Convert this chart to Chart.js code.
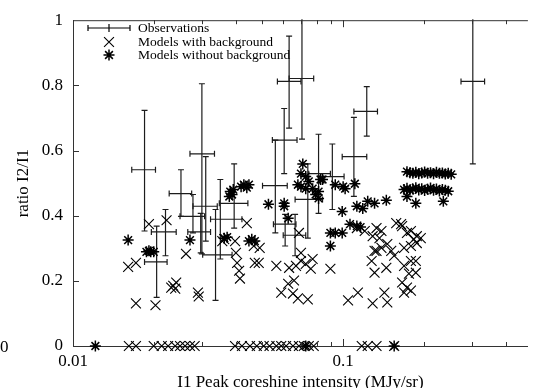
<!DOCTYPE html>
<html>
<head>
<meta charset="utf-8">
<script src="https://cdn.jsdelivr.net/npm/chart.js@4.4.1/dist/chart.umd.min.js"></script>
<style>
  html, body { margin: 0; padding: 0; background: #fff; }
  #wrap { width: 536px; height: 388px; position: relative; }
</style>
</head>
<body>
<div id="wrap"><canvas id="ratioChart"></canvas></div>
<script>
// --- Observations (centre + error bar ends) ---
const obsX   = [0.0184, 0.0204, 0.0220, 0.0251, 0.0300, 0.0310, 0.0297, 0.0278, 0.0337, 0.0351, 0.0395,
                0.0561, 0.0605, 0.0631, 0.0704, 0.0610, 0.0664, 0.0740, 0.0811, 0.0912, 0.1096, 0.1223, 0.302];
const obsY   = [0.541, 0.258, 0.350, 0.468, 0.590, 0.429, 0.350, 0.398, 0.280, 0.389, 0.438,
                0.492, 0.632, 0.812, 0.821, 0.374, 0.340, 0.450, 0.529, 0.520, 0.581, 0.720, 0.812];
const obsXLo = [0.0165, 0.0184, 0.0195, 0.0227, 0.0271, 0.0278, 0.0266, 0.0249, 0.0302, 0.0323, 0.0348,
                0.0503, 0.0547, 0.0571, 0.0631, 0.0552, 0.0600, 0.0664, 0.0746, 0.0825, 0.0992, 0.1096, 0.2731];
const obsXHi = [0.0202, 0.0223, 0.0241, 0.0275, 0.0334, 0.0342, 0.0323, 0.0307, 0.0388, 0.0422, 0.0444,
                0.0621, 0.0675, 0.0698, 0.0778, 0.0669, 0.0727, 0.0839, 0.0897, 0.1008, 0.1223, 0.1340, 0.3339];
const obsYLo = [0.353, 0.149, 0.277, 0.398, 0.283, 0.322, 0.286, 0.347, 0.140, 0.267, 0.362,
                0.347, 0.529, 0.669, 0.635, 0.307, 0.277, 0.331, 0.407, 0.419, 0.459, 0.644, 0.559];
const obsYHi = [0.723, 0.368, 0.419, 0.541, 0.805, 0.581, 0.407, 0.465, 0.419, 0.511, 0.559,
                0.632, 0.729, 0.951, 1.05, 0.404, 0.404, 0.559, 0.650, 0.620, 0.702, 0.796, 1.05];

// --- Models with background (x) ---
const bgX = [0.0191, 0.0222, 0.0160, 0.0171, 0.0171, 0.0202, 0.0231, 0.0241, 0.0235, 0.0239, 0.0262, 0.0290, 0.0292,
             0.0363, 0.0357, 0.0398, 0.0401, 0.0405, 0.0412, 0.0415, 0.0440, 0.0471, 0.0467, 0.0491, 0.0487,
             0.0566, 0.0631, 0.0669, 0.0698, 0.0727, 0.0759, 0.0771, 0.0698, 0.0686, 0.0590, 0.0626, 0.0658,
             0.0652, 0.0680, 0.0740, 0.0897, 0.1043, 0.1134, 0.1286, 0.1421, 0.1457, 0.1275, 0.1307, 0.1329,
             0.1386, 0.1445, 0.1507, 0.1545, 0.1681, 0.1782, 0.1874, 0.1681, 0.1782, 0.1858, 0.1752, 0.1858,
             0.1653, 0.1723, 0.1681, 0.1782, 0.1639, 0.1723, 0.1782, 0.1827, 0.1874, 0.1938, 0.1124, 0.1202,
             0.1329, 0.1386, 0.1286, 0.1363, 0.1572, 0.1653, 0.1457, 0.1307,
             0.0161, 0.0171, 0.0199, 0.0213, 0.0225, 0.0239, 0.0249, 0.0260, 0.0271, 0.0282, 0.0398, 0.0422,
             0.0452, 0.0479, 0.0508, 0.0534, 0.0566, 0.0590, 0.0615, 0.0652, 0.0686, 0.0715, 0.0746, 0.0778,
             0.1172, 0.1233, 0.1329, 0.1545];
const bgY = [0.374, 0.386, 0.243, 0.255, 0.131, 0.125, 0.179, 0.195, 0.185, 0.176, 0.283, 0.164, 0.152,
             0.328, 0.322, 0.322, 0.286, 0.255, 0.231, 0.207, 0.377, 0.255, 0.307, 0.301, 0.255,
             0.246, 0.240, 0.246, 0.261, 0.252, 0.237, 0.267, 0.286, 0.347, 0.164, 0.191, 0.201,
             0.161, 0.146, 0.143, 0.237, 0.140, 0.164, 0.131, 0.164, 0.134, 0.261, 0.225, 0.292,
             0.301, 0.240, 0.292, 0.277, 0.301, 0.307, 0.316, 0.246, 0.261, 0.261, 0.222, 0.225,
             0.195, 0.179, 0.164, 0.170, 0.374, 0.347, 0.353, 0.328, 0.337, 0.331, 0.362, 0.353,
             0.362, 0.353, 0.337, 0.331, 0.377, 0.368, 0.313, 0.292,
             0, 0, 0, 0, 0, 0, 0, 0, 0, 0, 0, 0,
             0, 0, 0, 0, 0, 0, 0, 0, 0, 0, 0, 0,
             0, 0, 0, 0];

// --- Models without background (*) ---
const nobgX = [0.0160, 0.0187, 0.0194, 0.0199, 0.0191, 0.0271, 0.0363, 0.0372, 0.0448, 0.0459, 0.0471,
               0.0382, 0.0388, 0.0379, 0.0392, 0.0419, 0.0429, 0.0440, 0.0448, 0.0529, 0.0605, 0.0605, 0.0626,
               0.0709, 0.0698, 0.0727, 0.0746, 0.0680, 0.0698, 0.0727, 0.0771, 0.0791, 0.0811, 0.0825, 0.0839,
               0.0811, 0.0935, 0.1000, 0.1017, 0.1105, 0.0992, 0.1124, 0.1182, 0.1233, 0.1307, 0.1445,
               0.0897, 0.0935, 0.0992, 0.0897, 0.1060, 0.1124, 0.1160,
               0.1723, 0.1767, 0.1812, 0.1858, 0.1905, 0.1954, 0.2003, 0.2054, 0.2106, 0.2161, 0.2215, 0.2272,
               0.2330, 0.2389, 0.2449, 0.2512,
               0.1681, 0.1723, 0.1767, 0.1812, 0.1858, 0.1905, 0.1954, 0.2003, 0.2054, 0.2106, 0.2161, 0.2215,
               0.2272, 0.2330, 0.2389, 0.2449, 0.2349, 0.1858, 0.1723,
               0.0121, 0.0727, 0.1545];
const nobgY = [0.325, 0.289, 0.289, 0.289, 0.292, 0.325, 0.331, 0.334, 0.322, 0.328, 0.322,
               0.474, 0.465, 0.459, 0.480, 0.489, 0.495, 0.486, 0.495, 0.435, 0.438, 0.429, 0.392,
               0.559, 0.529, 0.520, 0.505, 0.495, 0.489, 0.483, 0.483, 0.465, 0.453, 0.511, 0.511,
               0.474, 0.495, 0.489, 0.483, 0.498, 0.413, 0.429, 0.422, 0.444, 0.438, 0.447,
               0.347, 0.347, 0.347, 0.307, 0.374, 0.368, 0.365,
               0.535, 0.532, 0.530, 0.533, 0.529, 0.531, 0.534, 0.530, 0.532, 0.529, 0.533, 0.530,
               0.531, 0.528, 0.530, 0.527,
               0.480, 0.484, 0.478, 0.482, 0.486, 0.479, 0.483, 0.477, 0.481, 0.485, 0.478, 0.482,
               0.476, 0.480, 0.478, 0.475, 0.444, 0.438, 0.459,
               0, 0, 0];

// --- Axis labels ---
const xTickLabels = [0.01, 0.1];
const xMinorTicks = [0.02, 0.03, 0.04, 0.05, 0.06, 0.07, 0.08, 0.09, 0.2, 0.3, 0.4];
const yTicks = [0, 0.2, 0.4, 0.6, 0.8, 1];
const legendLabels = ['Observations', 'Models with background', 'Models without background'];

const serif = '"Liberation Serif", "DejaVu Serif", serif';
const ink = '#000';

const toPoints = (xs, ys) => xs.map((v, i) => ({ x: v, y: ys[i] }));

// --- error bars for the observations, drawn through the scales ---
const errorBarPlugin = {
    id: 'errorBars',
    beforeDatasetsDraw(chart) {
        const { ctx, chartArea, scales: { x, y } } = chart;
        ctx.save();
        ctx.beginPath();
        ctx.rect(chartArea.left, chartArea.top - 1, chartArea.right - chartArea.left, chartArea.bottom - chartArea.top + 2);
        ctx.clip();
        ctx.strokeStyle = '#1c1c1c';
        ctx.lineWidth = 1.2;
        const cap = 3;
        obsX.forEach((v, i) => {
            const px = x.getPixelForValue(v);
            const py = y.getPixelForValue(obsY[i]);
            const x0 = x.getPixelForValue(obsXLo[i]);
            const x1 = x.getPixelForValue(obsXHi[i]);
            const y0 = y.getPixelForValue(obsYLo[i]);
            const y1 = y.getPixelForValue(obsYHi[i]);
            ctx.beginPath();
            ctx.moveTo(x0, py); ctx.lineTo(x1, py);
            ctx.moveTo(x0, py - cap); ctx.lineTo(x0, py + cap);
            ctx.moveTo(x1, py - cap); ctx.lineTo(x1, py + cap);
            ctx.moveTo(px, y0); ctx.lineTo(px, y1);
            ctx.moveTo(px - cap, y0); ctx.lineTo(px + cap, y0);
            ctx.moveTo(px - cap, y1); ctx.lineTo(px + cap, y1);
            ctx.stroke();
        });
        ctx.restore();
    }
};

// --- frame, inward ticks, legend ---
const framePlugin = {
    id: 'frame',
    afterDraw(chart) {
        const { ctx, chartArea, scales: { x, y } } = chart;
        ctx.save();
        ctx.strokeStyle = '#333';
        ctx.lineWidth = 1;
        // top border
        ctx.beginPath();
        ctx.moveTo(chartArea.left, chartArea.top + 0.5);
        ctx.lineTo(chartArea.right, chartArea.top + 0.5);
        ctx.stroke();

        ctx.beginPath();
        xMinorTicks.forEach(v => {
            const px = Math.round(x.getPixelForValue(v)) + 0.5;
            ctx.moveTo(px, chartArea.bottom); ctx.lineTo(px, chartArea.bottom - 4);
            ctx.moveTo(px, chartArea.top); ctx.lineTo(px, chartArea.top + 4);
        });
        xTickLabels.forEach(v => {
            const px = Math.round(x.getPixelForValue(v)) + 0.5;
            ctx.moveTo(px, chartArea.bottom); ctx.lineTo(px, chartArea.bottom - 7);
            ctx.moveTo(px, chartArea.top); ctx.lineTo(px, chartArea.top + 7);
        });
        yTicks.slice(1, -1).forEach(v => {
            const py = Math.round(y.getPixelForValue(v)) + 0.5;
            ctx.moveTo(chartArea.left, py); ctx.lineTo(chartArea.left + 6, py);
        });
        ctx.stroke();

        // legend (top left, inside the frame)
        const lx = 109, ly = [28, 42, 55];
        ctx.strokeStyle = ink;
        ctx.lineWidth = 1.2;
        ctx.beginPath();
        ctx.moveTo(88, ly[0]); ctx.lineTo(130, ly[0]);
        ctx.moveTo(88, ly[0] - 3); ctx.lineTo(88, ly[0] + 3);
        ctx.moveTo(130, ly[0] - 3); ctx.lineTo(130, ly[0] + 3);
        ctx.moveTo(lx, ly[0] - 4); ctx.lineTo(lx, ly[0] + 4);
        ctx.stroke();
        ctx.lineWidth = 1.1;
        Chart.helpers.drawPoint(ctx, { pointStyle: 'crossRot', radius: 7, borderWidth: 1.1 }, lx, ly[1]);
        ctx.lineWidth = 1.5;
        Chart.helpers.drawPoint(ctx, { pointStyle: 'star', radius: 5.5, borderWidth: 1.5 }, lx, ly[2]);

        ctx.fillStyle = ink;
        ctx.font = '13.5px ' + serif;
        ctx.textAlign = 'left';
        ctx.textBaseline = 'middle';
        legendLabels.forEach((t, i) => ctx.fillText(t, 138, ly[i]));

        // stray label at the far left edge
        ctx.font = '17px ' + serif;
        ctx.fillText('0', 0, 348);
        ctx.restore();
    }
};

Chart.defaults.font.family = serif;
Chart.defaults.color = ink;

new Chart(document.getElementById('ratioChart'), {
    type: 'scatter',
    data: {
        datasets: [
            {
                label: 'Models with background',
                data: toPoints(bgX, bgY),
                pointStyle: 'crossRot', pointRadius: 7, borderWidth: 1.1,
                borderColor: ink, backgroundColor: ink, clip: false
            },
            {
                label: 'Models without background',
                data: toPoints(nobgX, nobgY),
                pointStyle: 'star', pointRadius: 5.5, borderWidth: 1.5,
                borderColor: ink, backgroundColor: ink, clip: false
            }
        ]
    },
    options: {
        responsive: true, maintainAspectRatio: false, animation: false,
        layout: { padding: { top: 17, right: 0, bottom: 0, left: 0 } },
        plugins: { legend: { display: false }, tooltip: { enabled: false } },
        scales: {
            x: {
                type: 'logarithmic', min: 0.01, max: 0.483,
                afterFit: (scale) => { scale.height = 42; },
                grid: { display: false, drawTicks: false },
                border: { display: true, color: '#333', width: 1 },
                ticks: {
                    autoSkip: false, maxRotation: 0, padding: 5,
                    font: { size: 17 }, color: ink,
                    callback: (v) => xTickLabels.includes(Number(v.toPrecision(3))) ? String(v) : ''
                },
                title: {
                    display: true, text: 'I1 Peak coreshine intensity (MJy/sr)',
                    font: { size: 17, lineHeight: 1 }, color: ink, padding: { top: 0, bottom: -3 }
                }
            },
            y: {
                min: 0, max: 1,
                afterFit: (scale) => { scale.width = 73; },
                afterBuildTicks: (scale) => { scale.ticks = yTicks.map(v => ({ value: v })); },
                grid: { display: false, drawTicks: false },
                border: { display: true, color: '#333', width: 1 },
                ticks: { padding: 10, font: { size: 17 }, color: ink, callback: (v) => String(v) },
                title: {
                    display: true, text: 'ratio I2/I1',
                    font: { size: 17, lineHeight: 1 }, color: ink, padding: { top: 15, bottom: 0 }
                }
            }
        }
    },
    plugins: [errorBarPlugin, framePlugin]
});
</script>
</body>
</html>
